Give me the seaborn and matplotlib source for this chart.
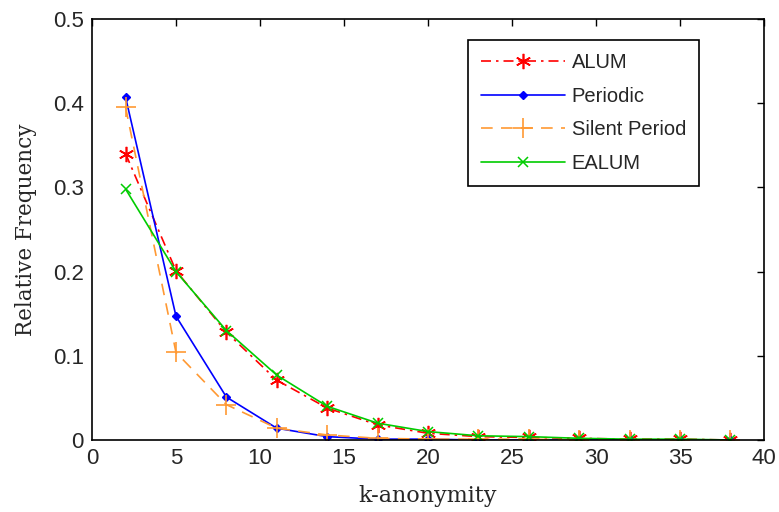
import matplotlib
matplotlib.use("Agg")
import matplotlib.pyplot as plt
import seaborn as sns
import pandas as pd

k_values = [2, 5, 8, 11, 14, 17, 20, 23, 26, 29, 32, 35, 38]
alum = [0.340, 0.201, 0.128, 0.071, 0.038, 0.018, 0.008, 0.004, 0.003, 0.002, 0.001, 0.001, 0.0]
periodic = [0.407, 0.147, 0.051, 0.014, 0.004, 0.001, 0.001, 0.0, 0.0, 0.0, 0.0, 0.0, 0.0]
silent = [0.395, 0.104, 0.042, 0.014, 0.006, 0.002, 0.001, 0.001, 0.001, 0.0, 0.0, 0.0, 0.0]
ealum = [0.298, 0.200, 0.130, 0.077, 0.040, 0.020, 0.010, 0.005, 0.004, 0.002, 0.001, 0.001, 0.0]

series_names = ["ALUM", "Periodic", "Silent Period", "EALUM"]
x_ticks = [0, 5, 10, 15, 20, 25, 30, 35, 40]
y_ticks = [0, 0.1, 0.2, 0.3, 0.4, 0.5]
y_tick_labels = ["0", "0.1", "0.2", "0.3", "0.4", "0.5"]

sns.set_style("white")
plt.rcParams["font.family"] = ["Liberation Sans", "DejaVu Sans"]

fig = plt.figure(figsize=(7.79, 5.12), dpi=100)
ax = fig.add_axes([92 / 779, (512 - 440) / 512, 672 / 779, 421 / 512])

styles = {
    "ALUM": dict(color="#FF0000", linestyle=(0, (6, 3, 1.5, 3)), marker=(6, 2, 0), markersize=11, mew=1.2),
    "Periodic": dict(color="#0000FF", linestyle="-", marker="D", markersize=4.5, mew=1),
    "Silent Period": dict(color="#FF9933", linestyle=(0, (7, 5)), marker="+", markersize=14, mew=1.2),
    "EALUM": dict(color="#00CC00", linestyle="-", marker="x", markersize=7, mew=1.1),
}
values = {"ALUM": alum, "Periodic": periodic, "Silent Period": silent, "EALUM": ealum}

for name in series_names:
    df = pd.DataFrame({"k": k_values, "freq": values[name]})
    st = styles[name]
    sns.lineplot(data=df, x="k", y="freq", ax=ax, label=name, color=st["color"],
                 linestyle=st["linestyle"], marker=st["marker"], markersize=st["markersize"],
                 markeredgewidth=st["mew"], markeredgecolor=st["color"], markerfacecolor=st["color"],
                 linewidth=1.2)

ax.set_xlim(0, 40)
ax.set_ylim(0, 0.5)
ax.set_xticks(x_ticks)
ax.set_xticklabels([str(t) for t in x_ticks])
ax.set_yticks(y_ticks)
ax.set_yticklabels(y_tick_labels)
ax.tick_params(direction="in", top=True, right=True, length=5, width=1, labelsize=16, color="black", pad=6)
for sp in ax.spines.values():
    sp.set_color("black")
    sp.set_linewidth(1.2)

ax.set_xlabel("k-anonymity", fontsize=16, family="DejaVu Serif", labelpad=11)
ax.set_ylabel("Relative Frequency", fontsize=15.5, family="DejaVu Serif", labelpad=11)

leg = ax.legend(loc="upper right", bbox_to_anchor=((699 - 92) / 672, (440 - 40) / 421),
                fontsize=14.5, frameon=True, fancybox=False, edgecolor="black", framealpha=1,
                handlelength=4.2, borderpad=0.65, labelspacing=0.73, handletextpad=0.3,
                borderaxespad=0)
leg.get_frame().set_linewidth(1.2)

fig.savefig("out.png", dpi=100, facecolor="white")
